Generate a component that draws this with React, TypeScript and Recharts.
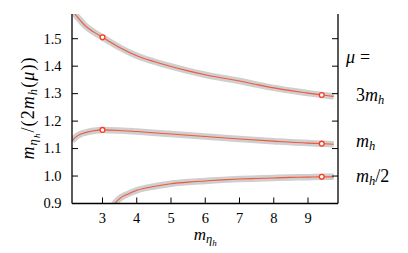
import React from "react";
import { ComposedChart, Line, Scatter, XAxis, YAxis } from "recharts";

// ---- data ----
const xTicks = [3, 4, 5, 6, 7, 8, 9];
const yTicks = [0.9, 1.0, 1.1, 1.2, 1.3, 1.4, 1.5];
const xDomain: [number, number] = [2.11, 9.875];
const yDomain: [number, number] = [0.9, 1.59];

const topX = [2.15, 2.3, 2.5, 2.75, 3, 3.5, 4, 4.5, 5, 5.5, 6, 6.5, 7, 7.5, 8, 8.5, 9, 9.4, 9.75];
const topY = [1.597, 1.574, 1.547, 1.524, 1.505, 1.468, 1.438, 1.417, 1.399, 1.383, 1.369, 1.357, 1.346, 1.333, 1.321, 1.311, 1.302, 1.295, 1.29];

const midX = [2.11, 2.2, 2.35, 2.5, 2.75, 3, 3.5, 4, 5, 6, 7, 8, 9, 9.4, 9.75];
const midY = [1.128, 1.14, 1.152, 1.158, 1.165, 1.168, 1.166, 1.162, 1.153, 1.144, 1.135, 1.127, 1.12, 1.118, 1.116];

const lowX = [3.3, 3.36, 3.5, 3.75, 4, 4.5, 5, 5.5, 6, 6.5, 7, 7.5, 8, 8.5, 9, 9.4, 9.75];
const lowY = [0.89, 0.9, 0.918, 0.935, 0.948, 0.962, 0.972, 0.978, 0.982, 0.986, 0.989, 0.991, 0.993, 0.995, 0.996, 0.997, 0.997];

const markX = [3, 9.4, 3, 9.4, 9.4];
const markY = [1.505, 1.295, 1.168, 1.118, 0.997];

const zip = (xs: number[], ys: number[]) => xs.map((x, i) => ({ x, y: ys[i] }));
const topData = zip(topX, topY);
const midData = zip(midX, midY);
const lowData = zip(lowX, lowY);
const markData = zip(markX, markY);

const FONT = "'Liberation Serif', 'Times New Roman', serif";
const RED = "#f2583b";
const MARK = "#ff3b1f";
const BAND = "#cfcfcf";
const TICK = 6;

const LeftTick = (p: any) => (
  <g>
    <line x1={p.x} y1={p.y} x2={p.x + TICK} y2={p.y} stroke="#000" strokeWidth={1} />
    <text x={p.x - 10.5} y={p.y + 4.8} textAnchor="end" style={{ fontFamily: FONT, fontSize: 14.5 }} fill="#000">
      {p.payload.value.toFixed(1)}
    </text>
  </g>
);
const BottomTick = (p: any) => (
  <g>
    <line x1={p.x} y1={p.y} x2={p.x} y2={p.y - TICK} stroke="#000" strokeWidth={1} />
    <text x={p.x} y={p.y + 19} textAnchor="middle" style={{ fontFamily: FONT, fontSize: 14.5 }} fill="#000">
      {p.payload.value}
    </text>
  </g>
);
const TopTick = (p: any) => (
  <line x1={p.x} y1={p.y} x2={p.x} y2={p.y + TICK} stroke="#000" strokeWidth={1} />
);
const RightTick = (p: any) => (
  <line x1={p.x} y1={p.y} x2={p.x - TICK} y2={p.y} stroke="#000" strokeWidth={1} />
);

const Marker = (p: any) => (
  <circle cx={p.cx} cy={p.cy} r={2.4} fill="#fff" stroke={MARK} strokeWidth={1.3} />
);

const axisLine = { stroke: "#000", strokeWidth: 1.3 };

export default function App() {
  const series = [topData, midData, lowData];
  return (
    <div style={{ position: "absolute", left: 0, top: 0, width: 408, height: 253, background: "#fff", fontFamily: FONT }}>
      <ComposedChart width={408} height={253} margin={{ top: 14, right: 0, bottom: 0, left: 0 }}>
        <XAxis
          xAxisId="bottom"
          dataKey="x"
          type="number"
          domain={xDomain}
          ticks={xTicks}
          allowDataOverflow
          height={49.5}
          tickSize={0}
          tickMargin={0}
          tickLine={false}
          axisLine={axisLine}
          tick={BottomTick}
          interval={0}
        />
        <XAxis
          xAxisId="top"
          orientation="top"
          dataKey="x"
          type="number"
          domain={xDomain}
          ticks={xTicks}
          allowDataOverflow
          height={0}
          tickSize={0}
          tickMargin={0}
          tickLine={false}
          axisLine={axisLine}
          tick={TopTick}
          interval={0}
        />
        <YAxis
          yAxisId="left"
          type="number"
          domain={yDomain}
          ticks={yTicks}
          allowDataOverflow
          width={72}
          tickSize={0}
          tickMargin={0}
          tickLine={false}
          axisLine={axisLine}
          tick={LeftTick}
          interval={0}
        />
        <YAxis
          yAxisId="right"
          orientation="right"
          type="number"
          domain={yDomain}
          ticks={yTicks}
          allowDataOverflow
          width={70}
          tickSize={0}
          tickMargin={0}
          tickLine={false}
          axisLine={axisLine}
          tick={RightTick}
          interval={0}
        />
        {series.map((d, i) => (
          <Line
            key={"band" + i}
            xAxisId="bottom"
            yAxisId="left"
            data={d}
            dataKey="y"
            type="monotone"
            stroke={BAND}
            strokeWidth={6.5}
            dot={false}
            activeDot={false}
            isAnimationActive={false}
          />
        ))}
        {series.map((d, i) => (
          <Line
            key={"line" + i}
            xAxisId="bottom"
            yAxisId="left"
            data={d}
            dataKey="y"
            type="monotone"
            stroke={RED}
            strokeWidth={1.1}
            dot={false}
            activeDot={false}
            isAnimationActive={false}
          />
        ))}
        <Line
          xAxisId="top"
          yAxisId="right"
          data={markData}
          dataKey="y"
          stroke="none"
          dot={false}
          activeDot={false}
          isAnimationActive={false}
        />
        <Scatter
          xAxisId="bottom"
          yAxisId="left"
          data={markData}
          dataKey="y"
          shape={Marker}
          isAnimationActive={false}
        />
      </ComposedChart>
      <svg
        width={408}
        height={253}
        style={{ position: "absolute", left: 0, top: 0, pointerEvents: "none", fontFamily: FONT }}
        fill="#000"
      >
        {/* y label */}
        <text
          transform="translate(34,108.5) rotate(-90)"
          textAnchor="middle"
          fontSize={18}
          textLength={102}
          lengthAdjust="spacing"
        >
          <tspan fontStyle="italic">m</tspan>
          <tspan fontStyle="italic" fontSize={12.5} dy={3}>η</tspan>
          <tspan fontStyle="italic" fontSize={9} dy={2.5}>h</tspan>
          <tspan dy={-5.5}>/(2</tspan>
          <tspan fontStyle="italic">m</tspan>
          <tspan fontStyle="italic" fontSize={12.5} dy={3}>h</tspan>
          <tspan dy={-3}>(</tspan>
          <tspan fontStyle="italic">μ</tspan>
          <tspan>))</tspan>
        </text>
        {/* x label */}
        <text x={205.3} y={240} textAnchor="middle" fontSize={17}>
          <tspan fontStyle="italic">m</tspan>
          <tspan fontStyle="italic" fontSize={12.5} dy={3}>η</tspan>
          <tspan fontStyle="italic" fontSize={9} dy={2.5}>h</tspan>
        </text>
        {/* right annotations */}
        <text x={346} y={63} fontSize={18}>
          <tspan fontStyle="italic">μ</tspan>
          <tspan x={360}>=</tspan>
        </text>
        <text x={356} y={100.5} fontSize={18}>
          <tspan>3</tspan>
          <tspan fontStyle="italic">m</tspan>
          <tspan fontStyle="italic" fontSize={12.5} dy={3}>h</tspan>
        </text>
        <text x={356} y={147} fontSize={18}>
          <tspan fontStyle="italic">m</tspan>
          <tspan fontStyle="italic" fontSize={12.5} dy={3}>h</tspan>
        </text>
        <text x={356} y={181.5} fontSize={18}>
          <tspan fontStyle="italic">m</tspan>
          <tspan fontStyle="italic" fontSize={12.5} dy={3}>h</tspan>
          <tspan dy={-3}>/2</tspan>
        </text>
      </svg>
    </div>
  );
}
